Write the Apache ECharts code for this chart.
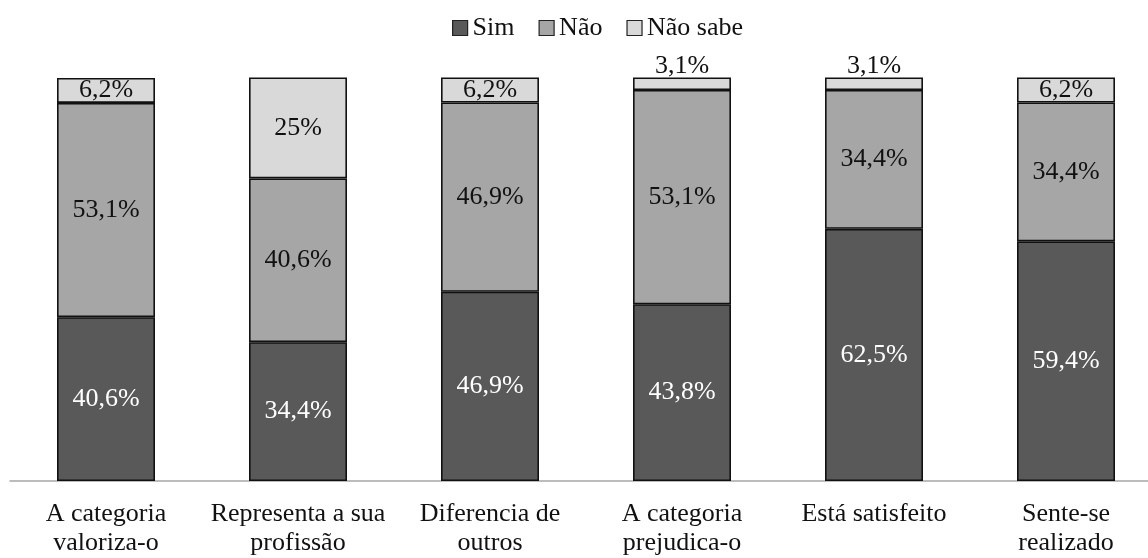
<!DOCTYPE html>
<html>
<head>
<meta charset="utf-8">
<script src="https://cdn.jsdelivr.net/npm/echarts@6/dist/echarts.min.js"></script>
<style>
  html, body { margin: 0; padding: 0; background: #fff; overflow: hidden; }
  #chart { width: 1162px; height: 558px; }
</style>
</head>
<body>
<div id="chart"></div>
<script>
// Survey answers per statement (percent of respondents)
const categories = [
  'A categoria\nvaloriza-o',
  'Representa a sua\nprofissão',
  'Diferencia de\noutros',
  'A categoria\nprejudica-o',
  'Está satisfeito',
  'Sente-se\nrealizado'
];
const seriesNames = ['Sim', 'Não', 'Não sabe'];
const sim = [40.6, 34.4, 46.9, 43.8, 62.5, 59.4];
const nao = [53.1, 40.6, 46.9, 53.1, 34.4, 34.4];
const naoSabe = [6.2, 25, 6.2, 3.1, 3.1, 6.2];

const FONT = '"Liberation Serif", "Times New Roman", serif';
const colors = ['#595959', '#a6a6a6', '#d9d9d9'];
const fmt = v => String(v).replace('.', ',') + '%';

function makeSeries(name, values, color, labelColor, smallOnTop) {
  return {
    name: name,
    type: 'bar',
    stack: 'total',
    barWidth: 98,
    itemStyle: { color: color, borderColor: '#111', borderWidth: 1.6 },
    label: {
      show: true,
      position: 'inside',
      color: labelColor,
      fontFamily: FONT,
      fontSize: 26,
      formatter: p => fmt(p.value)
    },
    data: values.map(v => {
      // thin segments carry their label just above the bar
      if (smallOnTop && v < 5) {
        return { value: v, label: { position: 'top', distance: -2, color: '#111' } };
      }
      return v;
    })
  };
}

const chart = echarts.init(document.getElementById('chart'));
chart.setOption({
  animation: false,
  backgroundColor: '#fff',
  textStyle: { fontFamily: FONT },
  legend: {
    top: 10,
    left: 447,
    itemWidth: 15,
    itemHeight: 15,
    itemGap: 24,
    icon: 'rect',
    itemStyle: { borderColor: '#222', borderWidth: 1.2 },
    textStyle: { fontFamily: FONT, fontSize: 26, color: '#111' },
    data: seriesNames
  },
  grid: { left: 10, right: 0, top: 77.5, height: 404, containLabel: false },
  xAxis: {
    type: 'category',
    data: categories,
    axisLine: { show: true, lineStyle: { color: '#a6a6a6', width: 1.5 } },
    axisTick: { show: false },
    axisLabel: {
      interval: 0,
      margin: 19,
      color: '#111',
      fontFamily: FONT,
      fontSize: 26,
      lineHeight: 29
    }
  },
  yAxis: {
    type: 'value',
    min: 0,
    max: 100,
    interval: 20,
    show: false
  },
  series: [
    makeSeries(seriesNames[0], sim, colors[0], '#ffffff', false),
    makeSeries(seriesNames[1], nao, colors[1], '#111', false),
    makeSeries(seriesNames[2], naoSabe, colors[2], '#111', true)
  ]
});
</script>
</body>
</html>
